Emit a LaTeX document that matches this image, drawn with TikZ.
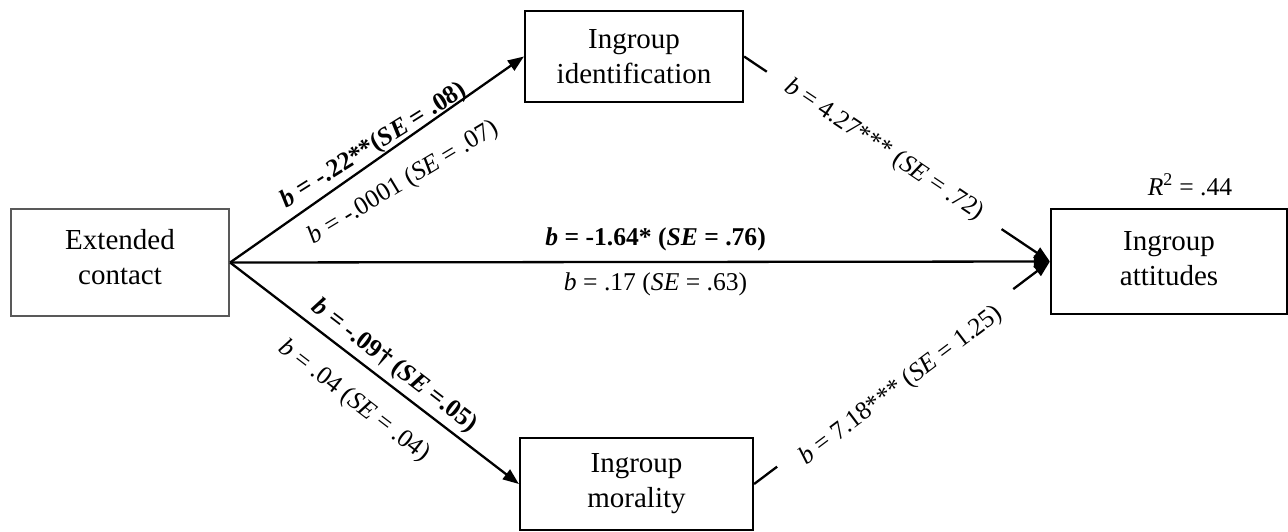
\documentclass[tikz,border=0pt]{standalone}
\usepackage{fontspec}
\setmainfont{Liberation Serif}
\usetikzlibrary{arrows.meta}
\begin{document}
\begin{tikzpicture}[x=1pt,y=-1pt,
  box/.style={draw=black, line width=2.2pt, rectangle, align=center, inner sep=0pt,
    font=\fontsize{29}{35}\selectfont},
  conn/.style={line width=2.3pt, -{Triangle[length=16pt,width=12pt]}},
  lbl/.style={font=\fontsize{25.6}{30}\selectfont, inner sep=0pt},
  gaplbl/.style={lbl, fill=white, inner xsep=24pt, inner ysep=3pt, sloped},
]
\useasboundingbox (0,0) rectangle (1288,531);

\node[box, draw=black!65, minimum width=218pt, minimum height=107pt] (ext) at (120,262.5)
  {Extended\\contact\rule[-12pt]{0pt}{12pt}};
\node[box, minimum width=218pt, minimum height=91pt] (ident) at (634,56.5)
  {Ingroup\\identification};
\node[box, minimum width=233pt, minimum height=92pt] (moral) at (636.5,484)
  {Ingroup\\morality};
\node[box, minimum width=236pt, minimum height=105pt] (att) at (1169,261.5)
  {Ingroup\\attitudes\rule[-7pt]{0pt}{7pt}};
\node[lbl, anchor=base] (r2) at (1190,195) {\textit{R}\textsuperscript{2} = .44};

\draw[conn] (ext.east) -- (ident.west)
  node[lbl, pos=.513, sloped, anchor=south, rotate=-3]
    {\textbf{\textit{b} = -.22**(\textit{SE} = .08)}}
  node[lbl, pos=.53, sloped, anchor=north, inner ysep=22pt, rotate=-4]
    {\textit{b} = -.0001 (\textit{SE} = .07)};

\draw[conn] (ext.east) -- (moral.west)
  node[lbl, pos=.532, sloped, anchor=south, inner ysep=5pt]
    {\textbf{\textit{b} = -.09\textdagger{} (\textit{SE} =.05)}}
  node[lbl, pos=.502, sloped, anchor=north, inner ysep=22pt]
    {\textit{b} = .04 (\textit{SE} = .04)};

\draw[conn] (ext.east) -- (att.west)
  node[lbl, pos=.519, anchor=base, yshift=16pt]
    {\textbf{\textit{b} = -1.64* (\textit{SE} = .76)}}
  node[lbl, pos=.519, anchor=base, yshift=-29pt]
    {\textit{b} = .17 (\textit{SE} = .63)};

\draw[conn] (ident.east) -- (att.west)
  node[gaplbl, pos=.458] {\textit{b} = 4.27*** (\textit{SE} = .72)};

\draw[conn] (moral.east) -- (att.west)
  node[gaplbl, pos=.477, yshift=-10pt] {\textit{b} = 7.18*** (\textit{SE} = 1.25)};
\end{tikzpicture}
\end{document}
